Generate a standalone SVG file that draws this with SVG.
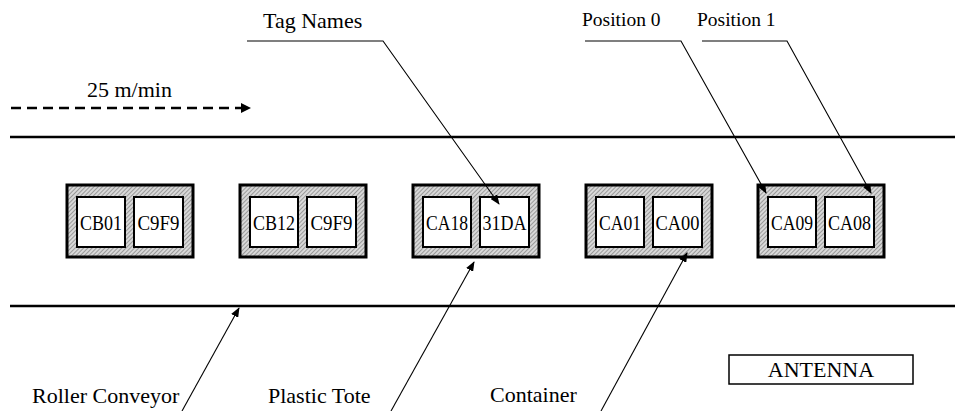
<svg xmlns="http://www.w3.org/2000/svg" width="955" height="411" viewBox="0 0 955 411">
<defs>
<pattern id="hatch" patternUnits="userSpaceOnUse" width="3" height="3" patternTransform="rotate(45)">
<rect width="3" height="3" fill="#d8d8d8"/>
<line x1="0" y1="0" x2="0" y2="3" stroke="#6e6e6e" stroke-width="1.2"/>
</pattern>
<marker id="ah" markerWidth="10" markerHeight="8" refX="9" refY="4" orient="auto" markerUnits="userSpaceOnUse">
<path d="M0,0 L10,4 L0,8 Z" fill="#000"/>
</marker>
</defs>
<style>
text{font-family:"Liberation Serif","Times New Roman",serif;fill:#000}
.lbl{font-size:22px}
.pos{font-size:19.5px}
.cell{font-size:22px;text-anchor:middle}
.tote{fill:url(#hatch);stroke:#000;stroke-width:3}
.slot{fill:#fff;stroke:#000;stroke-width:2}
.rail{stroke:#000;stroke-width:2.5;fill:none}
.lead{stroke:#000;stroke-width:1.1;fill:none;marker-end:url(#ah)}
</style>
<rect width="955" height="411" fill="#fff"/>

<g id="conveyor">
<line class="rail" x1="10" y1="137" x2="955" y2="137"/>
<line class="rail" x1="10" y1="306" x2="955" y2="306" stroke-width="3"/>
</g>

<g id="speed">
<line x1="11" y1="108" x2="242" y2="108" stroke="#000" stroke-width="2.5" stroke-dasharray="10 6"/>
<path d="M241,103 L251,108 L241,113 Z" fill="#000"/>
<text class="lbl" x="87" y="97">25 m/min</text>
</g>

<g id="tote1">
<rect class="tote" x="67" y="185" width="126" height="72"/>
<rect class="slot" x="77" y="197" width="48" height="50"/>
<rect class="slot" x="134" y="197" width="49" height="50"/>
<text class="cell" x="101" y="230" textLength="42" lengthAdjust="spacingAndGlyphs">CB01</text>
<text class="cell" x="158.5" y="230" textLength="42" lengthAdjust="spacingAndGlyphs">C9F9</text>
</g>
<g id="tote2">
<rect class="tote" x="240" y="185" width="126" height="72"/>
<rect class="slot" x="250" y="197" width="48" height="50"/>
<rect class="slot" x="307" y="197" width="49" height="50"/>
<text class="cell" x="274" y="230" textLength="42" lengthAdjust="spacingAndGlyphs">CB12</text>
<text class="cell" x="331.5" y="230" textLength="42" lengthAdjust="spacingAndGlyphs">C9F9</text>
</g>
<g id="tote3">
<rect class="tote" x="413" y="185" width="126" height="72"/>
<rect class="slot" x="423" y="197" width="48" height="50"/>
<rect class="slot" x="480" y="197" width="49" height="50"/>
<text class="cell" x="447" y="230" textLength="42" lengthAdjust="spacingAndGlyphs">CA18</text>
<text class="cell" x="504.5" y="230" textLength="44" lengthAdjust="spacingAndGlyphs">31DA</text>
</g>
<g id="tote4">
<rect class="tote" x="586" y="185" width="126" height="72"/>
<rect class="slot" x="596" y="197" width="48" height="50"/>
<rect class="slot" x="653" y="197" width="49" height="50"/>
<text class="cell" x="620" y="230" textLength="42" lengthAdjust="spacingAndGlyphs">CA01</text>
<text class="cell" x="677.5" y="230" textLength="44" lengthAdjust="spacingAndGlyphs">CA00</text>
</g>
<g id="tote5">
<rect class="tote" x="758" y="185" width="126" height="72"/>
<rect class="slot" x="768" y="197" width="48" height="50"/>
<rect class="slot" x="825" y="197" width="49" height="50"/>
<text class="cell" x="792" y="230" textLength="42" lengthAdjust="spacingAndGlyphs">CA09</text>
<text class="cell" x="849.5" y="230" textLength="43" lengthAdjust="spacingAndGlyphs">CA08</text>
</g>

<g id="antenna">
<rect x="729" y="355" width="184" height="29" fill="#fff" stroke="#000" stroke-width="1.5"/>
<text class="lbl" x="821" y="377" text-anchor="middle">ANTENNA</text>
</g>

<g id="labels">
<text class="lbl" x="263" y="28">Tag Names</text>
<text class="pos" x="582" y="26">Position 0</text>
<text class="pos" x="697" y="26">Position 1</text>
<text class="lbl" x="32" y="403">Roller Conveyor</text>
<text class="lbl" x="268" y="403">Plastic Tote</text>
<text class="lbl" x="490" y="402">Container</text>
</g>

<g id="connectors">
<polyline class="lead" points="247,41 383,41 499,204"/>
<polyline class="lead" points="585,41 681,41 766,193"/>
<polyline class="lead" points="702,41 787,41 871,193"/>
<line class="lead" x1="182" y1="411" x2="239" y2="308"/>
<line class="lead" x1="391" y1="411" x2="474" y2="262"/>
<line class="lead" x1="601" y1="411" x2="687" y2="253"/>
</g>
</svg>
